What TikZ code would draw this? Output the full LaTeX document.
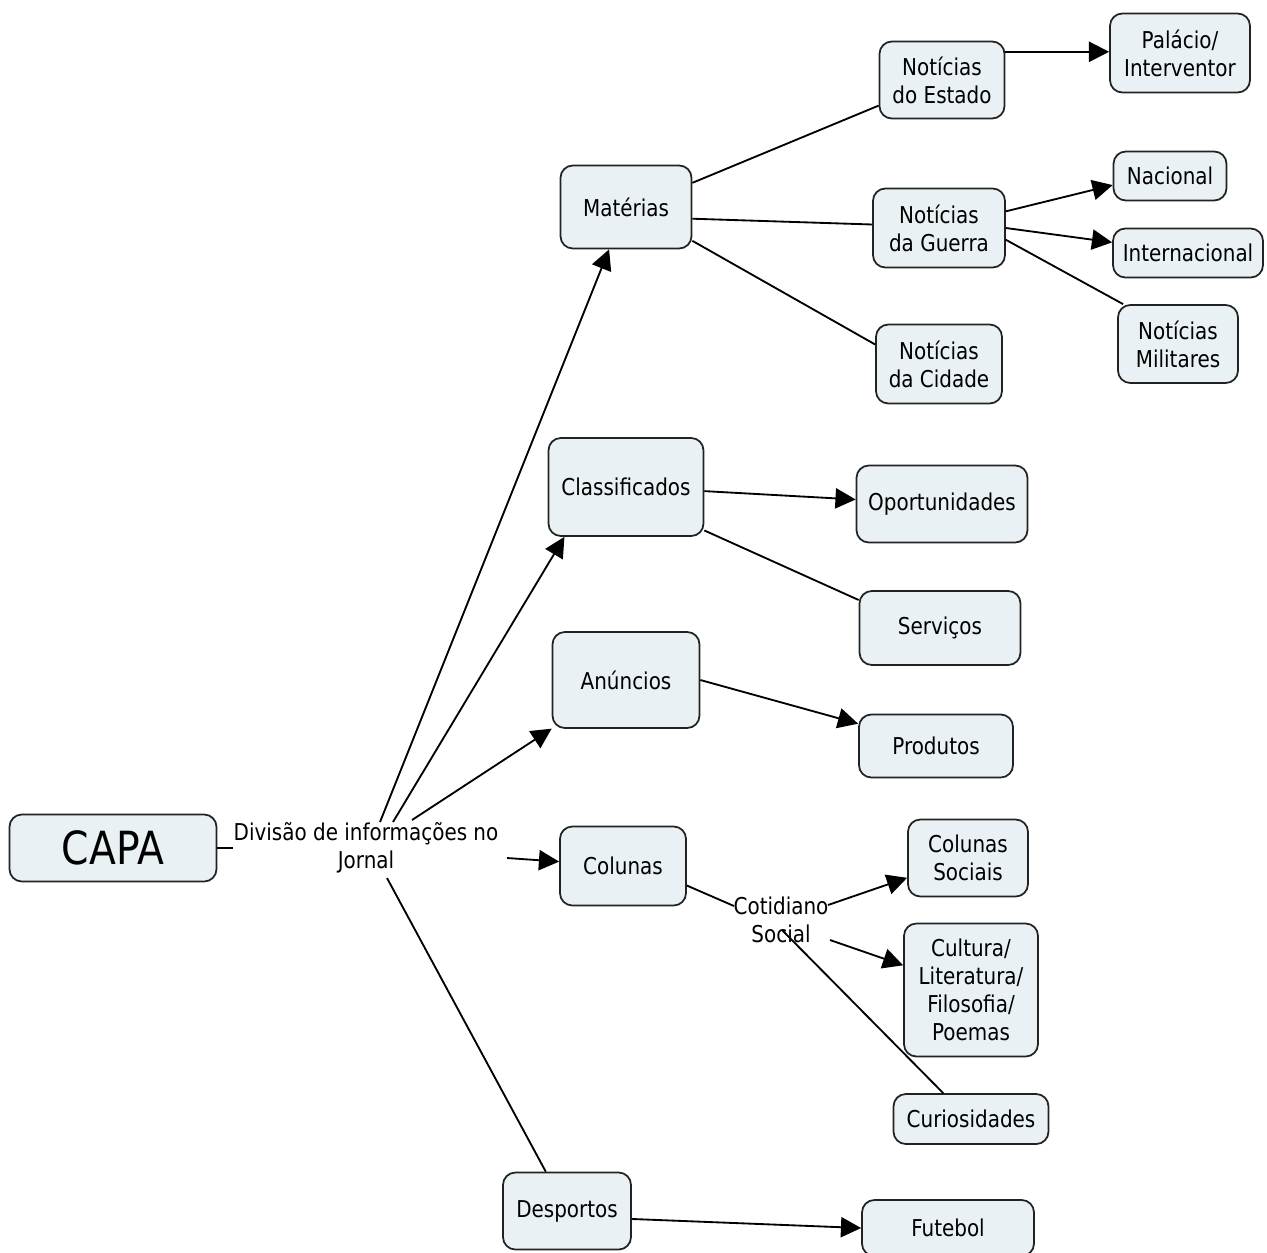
\documentclass[tikz,border=0pt]{standalone}
\usepackage{fontspec}
\setmainfont{DejaVu Sans}[FakeStretch=0.86]
\usetikzlibrary{arrows.meta}
\definecolor{boxfill}{HTML}{E9F1F5}
\definecolor{boxline}{HTML}{222222}
\begin{document}
\begin{tikzpicture}[x=0.02cm,y=-0.02cm,
  box/.style={draw=boxline,line width=1pt,fill=boxfill,rounded corners=7pt,
    inner sep=0pt,align=center,font=\fontsize{13.2pt}{16pt}\selectfont},
  lbl/.style={inner sep=0pt,align=center,font=\fontsize{13.2pt}{16pt}\selectfont},
  conn/.style={line width=1.05pt,black},
  arr/.style={conn,-{Triangle[length=11.5pt,width=11.5pt]}}]
\useasboundingbox (0,0) rectangle (1267,1252);
% nodes
\node[box,minimum width=4.14cm,minimum height=1.34cm,font=\fontsize{26pt}{30pt}\selectfont] (capa) at (113,848) {CAPA};
\node[lbl] (div) at (366,848) {Divisão de informações no\\Jornal};
\node[box,minimum width=2.62cm,minimum height=1.66cm] (mat) at (626,207) {Matérias};
\node[box,minimum width=2.5cm,minimum height=1.54cm] (nes) at (942,80) {Notícias\\do Estado};
\node[box,minimum width=2.8cm,minimum height=1.58cm] (pal) at (1180,53) {Palácio/\\Interventor};
\node[box,minimum width=2.26cm,minimum height=0.98cm] (nac) at (1170,176) {Nacional};
\node[box,minimum width=2.64cm,minimum height=1.58cm] (ngu) at (939,228) {Notícias\\da Guerra};
\node[box,minimum width=3.0cm,minimum height=0.98cm] (int) at (1188,253) {Internacional};
\node[box,minimum width=2.4cm,minimum height=1.56cm] (mil) at (1178,344) {Notícias\\Militares};
\node[box,minimum width=2.52cm,minimum height=1.58cm] (nci) at (939,364) {Notícias\\da Cidade};
\node[box,minimum width=3.1cm,minimum height=1.96cm] (cla) at (626,487) {Classificados};
\node[box,minimum width=3.42cm,minimum height=1.54cm] (opo) at (942,504) {Oportunidades};
\node[box,minimum width=3.22cm,minimum height=1.48cm] (ser) at (940,628) {Serviços};
\node[box,minimum width=2.94cm,minimum height=1.92cm] (anu) at (626,680) {Anúncios};
\node[box,minimum width=3.08cm,minimum height=1.26cm] (pro) at (936,746) {Produtos};
\node[box,minimum width=2.52cm,minimum height=1.58cm] (col) at (623,866) {Colunas};
\node[lbl] (cot) at (781,920) {Cotidiano\\Social};
\node[box,minimum width=2.4cm,minimum height=1.54cm] (cso) at (968,858) {Colunas\\Sociais};
\node[box,minimum width=2.68cm,minimum height=2.66cm] (cul) at (971,990) {Cultura/\\Literatura/\\Filosofia/\\Poemas};
\node[box,minimum width=3.1cm,minimum height=1.0cm] (cur) at (971,1119) {Curiosidades};
\node[box,minimum width=2.56cm,minimum height=1.54cm] (des) at (567,1211) {Desportos};
\node[box,minimum width=3.44cm,minimum height=1.12cm] (fut) at (948,1228) {Futebol};
% free ends
\coordinate (dA) at (380,822);
\coordinate (dB) at (393,822);
\coordinate (dC) at (412,820);
\coordinate (dD) at (507,858);
\coordinate (dE) at (387,878);
\coordinate (cW) at (734,906);
\coordinate (cE) at (828,905);
\coordinate (cS) at (830,940);
\coordinate (cM) at (782,930);
% connectors
\draw[conn] (capa.east) -- (div.west);
\draw[arr] (dA) -- (mat);
\draw[arr] (dB) -- (cla.219);
\draw[arr] (dC) -- (anu);
\draw[arr] (dD) -- (col);
\draw[conn] (dE) -- (des);
\draw[conn] (mat.20) -- (nes.202);
\draw[conn] (mat.-10) -- (ngu.177);
\draw[conn] (mat.333) -- (nci.163);
\draw[arr] (nes.24) -- (nes.24 -| pal.west);
\draw[arr] (ngu.14) -- (nac.189);
\draw[arr] (ngu.east) -- (int.172);
\draw[conn] (ngu.350) -- (mil.144);
\draw[arr] (cla.-3) -- (opo.177);
\draw[conn] (cla.331) -- (ser.161);
\draw[arr] (anu.east) -- (pro.164);
\draw[conn] (col.343) -- (cW);
\draw[arr] (cE) -- (cso.198);
\draw[arr] (cS) -- (cul.160);
\draw[conn] (cM) -- (cur.137);
\draw[arr] (des.-7) -- (fut.west);
\end{tikzpicture}
\end{document}
